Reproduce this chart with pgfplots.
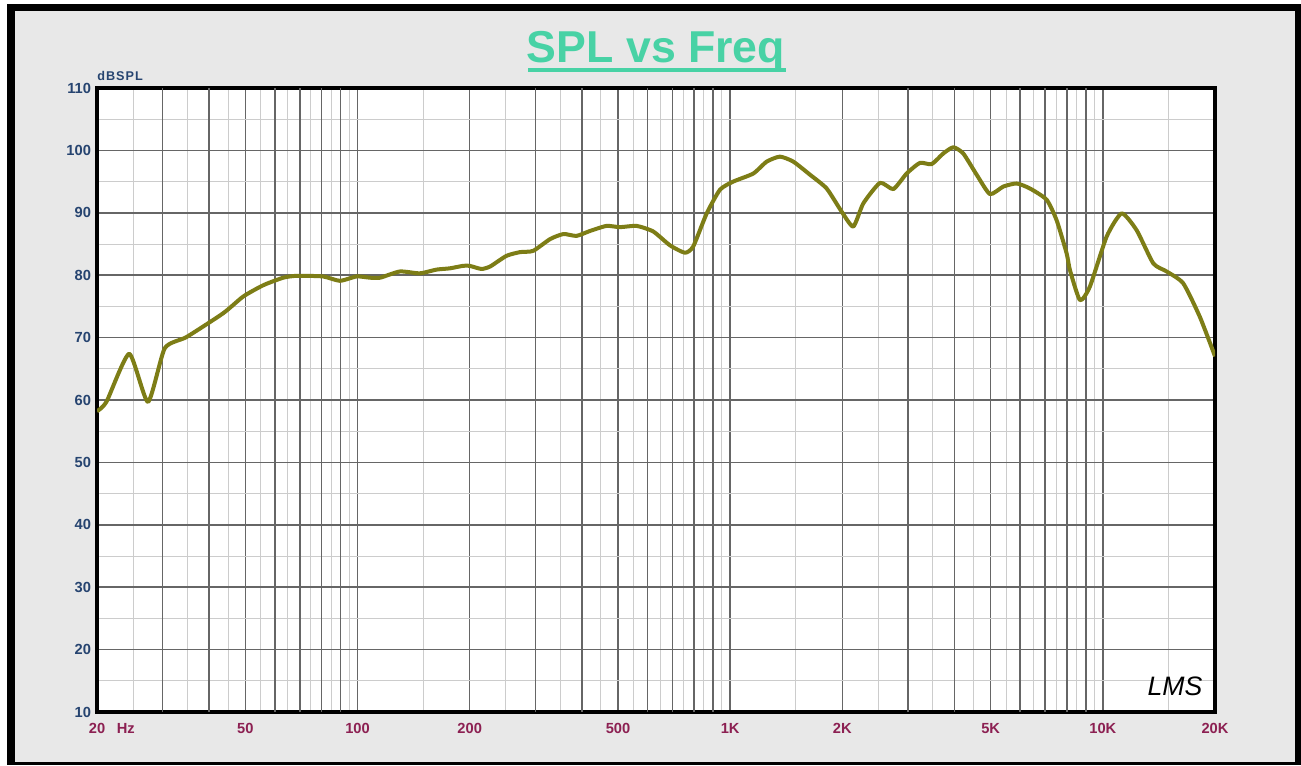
\documentclass[border=0pt]{standalone}
\usepackage{fontspec}
\setmainfont{Liberation Sans}
\usepackage{pgfplots}
\pgfplotsset{compat=1.18}
\definecolor{curve}{RGB}{125,125,22}
\definecolor{ytk}{RGB}{38,68,112}
\definecolor{xtk}{RGB}{140,32,82}
\definecolor{ttl}{RGB}{72,210,165}
\definecolor{bg}{RGB}{232,232,232}
\begin{document}
\begin{tikzpicture}[x=0.75pt,y=0.75pt]
% frame of the picture (pixel units, y up)
\fill[white] (0,0) rectangle (1301,765);
\fill[bg] (7,0) rectangle (1301,761);
\fill[black] (7,0) rectangle (15,761);
\fill[black] (7,754) rectangle (1301,761);
\fill[black] (7,0) rectangle (1301,3);
\fill[black] (1295,0) rectangle (1301,761);
% title
\node[anchor=base, text=ttl, font=\bfseries\fontsize{33.5}{36}\selectfont, inner sep=0] at (656,702) {SPL vs Freq};
\draw[ttl, line width=3pt] (528,695) -- (786,695);
% unit label
\node[anchor=west, inner sep=0, text=ytk, font=\bfseries\fontsize{9.5}{9.5}\selectfont\addfontfeature{LetterSpace=8}] at (97,689) {dBSPL};
\begin{axis}[
  at={(72.75pt,39.75pt)}, anchor=south west,
  scale only axis, width=838.5pt, height=468pt,
  xmode=log, xmin=20, xmax=20000, ymin=10, ymax=110,
  axis background/.style={fill=white},
  xtick={20,50,100,200,500,1000,2000,5000,10000,20000},
  xticklabels={20\rlap{\hspace{0.8em}Hz},50,100,200,500,1K,2K,5K,10K,20K},
  extra x ticks={30,40,60,70,80,90,300,400,600,700,800,900,3000,4000,6000,7000,8000,9000},
  extra x tick labels={},
  extra x tick style={grid=major},
  minor xtick={25,35,45,55,65,75,85,95,150,250,350,450,550,650,750,850,950,1500,2500,3500,4500,5500,6500,7500,8500,9500,15000},
  ytick={10,20,...,110},
  minor ytick={15,25,...,105},
  grid=both,
  major grid style={draw=black!60, line width=1.2pt},
  minor grid style={draw=black!20, line width=0.75pt},
  major tick length=0pt, minor tick length=0pt,
  axis line style={line width=2.4pt},
  /pgf/number format/assume math mode=true,
  yticklabel style={text=ytk, font=\bfseries\fontsize{11}{11}\selectfont, xshift=-1pt},
  xticklabel style={text=xtk, font=\bfseries\fontsize{11}{11}\selectfont, yshift=-5pt},
  clip=true,
]
\addplot[curve, line width=3pt, smooth, tension=0.35, line join=round] coordinates {
(20,58.2) (21.2,59.7) (24.4,67.4) (27.4,59.7) (30.4,68.3) (34.8,70.1)
(43.6,73.9) (49.4,76.6) (55.9,78.4) (63.2,79.6) (68.7,79.9) (80.8,79.8)
(89.7,79.1) (99.5,79.8) (108,79.6) (115,79.6) (130,80.6) (147,80.3)
(163,80.9) (177,81.1) (192,81.5) (200,81.5) (215,81.0) (227,81.4)
(251,83.1) (273,83.7) (296,83.9) (329,85.8) (357,86.6) (387,86.3)
(421,87.1) (466,87.9) (506,87.7) (561,87.9) (622,87.0) (689,84.8)
(756,83.6) (796,84.6) (865,89.9) (939,93.7) (1019,95.0) (1154,96.3)
(1253,98.2) (1360,99.0) (1477,98.2) (1638,96.1) (1815,93.9) (1991,90.2)
(2140,87.8) (2276,91.5) (2524,94.8) (2740,93.8) (2976,96.3) (3230,98.0)
(3472,97.8) (3730,99.5) (3970,100.5) (4222,99.5) (4586,96.1) (4977,93.0)
(5404,94.2) (5872,94.7) (6372,93.9) (7066,92.1) (7516,88.8) (7996,83.5)
(8162,80.8) (8682,76.0) (9234,78.2) (10240,86.2) (11232,89.9) (12324,87.2)
(13656,81.9) (14832,80.6) (16432,78.7) (18218,73.3) (20000,67.0)
};
\end{axis}
% logo
\node[inner sep=0, font=\itshape\fontsize{20}{20}\selectfont] at (1175,79) {LMS};
\end{tikzpicture}
\end{document}
